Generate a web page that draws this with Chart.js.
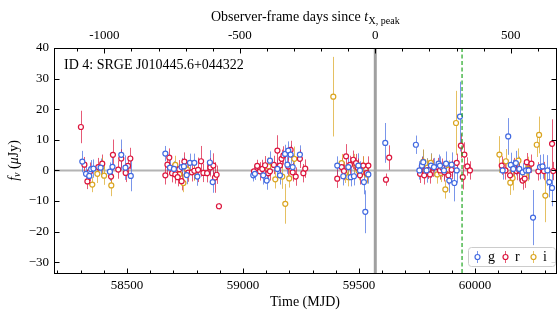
<!DOCTYPE html>
<html>
<head>
<meta charset="utf-8">
<script src="https://cdn.jsdelivr.net/npm/chart.js@4.4.0/dist/chart.umd.min.js"></script>
<style>
  html, body { margin: 0; padding: 0; background: #fff; }
  canvas { display: block; }
</style>
</head>
<body>
<canvas id="lc" width="560" height="320"></canvas>
<script>
// g band: MJD, flux (uJy), 1-sigma error
const gMjd = [58307,58323,58337,58345,58355,58386,58426,58437,58475,58493,58516,
  58665,58685,58702,58735,58745,58757,58771,58790,58803,58857,58869,
  59044,59051,59087,59102,59116,59148,59159,59181,59191,59195,59205,59214,59245,
  59406,59432,59454,59464,59478,59497,59504,59521,59527,59540,
  59613,
  59745,59760,59771,59777,59791,59810,59823,59843,59849,59866,59875,59889,59899,59911,59921,59935,
  60119,60143,60154,60165,60176,60191,60205,60220,60231,60250,60280,60291,60312,60320,60332];
const gFlux = [2.9,-1.1,-1.8,0.4,0.6,0.9,-0.4,1.2,5.1,0.9,-1.8,
  5.5,0.9,0.5,1.1,1.3,-1.5,2.5,2.5,-2.0,2.6,-3.8,
  -1.6,-1.1,-1.6,-3.3,3.2,0.5,-1.6,5.4,1.9,6.5,5.2,1.1,5.2,
  1.6,-1.9,1.1,-2.2,-1.9,1.6,0.0,-3.8,-13.5,-1.3,
  9.0,
  8.4,0.0,1.6,2.7,0.0,1.6,1.1,2.2,1.6,0.0,2.2,-3.3,1.9,-4.1,0.0,17.6,
  0.0,11.1,1.8,0.5,2.4,0.5,-0.6,0.0,0.0,-15.4,1.1,1.3,0.0,-3.8,-5.7];
const gErr = [3.5,3,3,3,3,3,3,4,5,4,5,
  2.5,2.5,2.5,3,3,3,3,3,3,4,3.5,
  2,2,3,3,3,3,3,3,3,3,3,4,3,
  3,3,3,3,3,4,3,4,7,3,
  6.5,
  3,3,3,4,4,4,3,3,3,3,4,4,4,6,4,11.4,
  3,6,4,3,4,4,3,3,3,9,4,4,5,5,6];

// r band
const rMjd = [58301,58316,58329,58340,58376,58393,58431,58439,58462,58475,58494,58504,58514,
  58665,58674,58682,58694,58708,58718,58725,58735,58747,58764,58779,58790,58806,58819,58829,58845,58859,58872,58879,58886,58896,
  59047,59061,59073,59083,59095,59109,59116,59133,59148,59159,59166,59174,59195,59205,59214,59227,59245,59260,59268,
  59406,59425,59435,59444,59461,59475,59487,59494,59504,59518,59533,59540,
  59616,59630,
  59763,59771,59781,59799,59806,59820,59839,59849,59859,59868,59885,59899,59921,59939,59947,59954,59967,59978,
  60115,60131,60151,60168,60179,60191,60205,60214,60223,60230,60243,60273,60297,60332,60337];
const rFlux = [14.2,1.9,-3.6,-0.4,1.1,2.2,-2.0,5.1,0.3,3.9,-0.8,1.5,3.9,
  -1.6,1.9,4.2,-0.9,-1.3,-2.2,0.4,-3.5,2.9,-0.7,-0.6,-0.1,0.2,3.0,-0.8,-0.9,1.0,1.6,-2.3,-1.4,-11.7,
  -0.3,1.5,-0.3,0.5,1.7,-0.9,-0.3,1.8,6.5,1.6,3.8,4.9,1.3,6.7,-0.6,-2.0,3.8,-0.9,0.6,
  -2.7,1.1,-0.2,4.6,1.8,3.5,2.4,0.9,-1.6,1.6,-0.9,1.6,
  -3.0,4.2,
  -1.1,1.3,-1.6,0.2,-1.3,0.9,1.1,0.0,0.9,-0.6,-1.6,0.2,2.5,8.1,-2.2,5.2,1.3,0.0,
  1.6,0.0,-1.6,1.1,-0.2,0.0,-3.3,-2.7,2.7,0.2,2.2,-0.3,-0.2,8.7,-0.2];
const rErr = [5.3,2.5,2.5,3,3,3,3,5,3,3,3,3,3.5,
  3,3,3,3,3,3,3,3,3,3,3,3,4,5,3,3,3,4,5,3,1,
  2,2,3,3,3,3,3,3,5,3,3,3,3,3,3,3,3,3,3,
  3,3,3,4,3,3,3,3,3,3,3,3,
  2,4,
  3,3,3,3,3,3,3,3,3,3,3,3,3,4,4,4,3,3,
  3,3,3,3,3,3,3,3,3,3,3,3,3,8,3];

// i band
const iMjd = [58350,58372,58391,58401,58432,
  58708,58725,58743,58760,58789,
  59109,59139,59169,59182,59199,59221,
  59389,59425,59439,59454,59478,59498,59518,59533,
  59777,59794,59809,59837,59853,59872,59886,59918,
  60105,60133,60152,60162,60187,60214,60230,60266,60276,60303];
const iFlux = [-4.6,-1.1,1.1,-1.7,-4.9,
  1.8,-1.3,-4.1,0.2,-0.4,
  1.3,-2.9,-2.0,-10.9,-2.6,3.8,
  24.1,2.4,-1.1,-2.2,2.4,-0.2,1.6,-1.3,
  2.9,0.9,2.5,-1.3,-0.8,-6.2,0.3,15.5,
  5.2,3.0,-4.0,-2.5,3.2,-1.3,0.5,8.4,11.6,-8.2];
const iErr = [2.5,3,3,3,3.5,
  3,3,3,3,3,
  3,3,4,6.5,3,4,
  13,3,3,3,3,3,3,3,
  4,3,3,3,3,3,3,10.5,
  6,4,4,4,4,3,4,4,6,8.7];

// axes
const mjdTicks = [58500, 59000, 59500, 60000];
const dayTicks = [-1000, -500, 0, 500];
const fluxTicks = [-30, -20, -10, 0, 10, 20, 30, 40];
const peakMjd = 59570;   // t_X,peak
const markMjd = 59944;   // green dashed line

const SERIF = "'Liberation Serif', 'DejaVu Serif', serif";
const colors = { g: '#4169e1', r: '#dc143c', i: '#daa520' };
const errColors = { g: 'rgba(65,105,225,0.7)', r: 'rgba(220,20,60,0.7)', i: 'rgba(218,165,32,0.7)' };

function toPoints(xs, ys, es) {
    return xs.map((x, k) => ({ x: x, y: ys[k], err: es[k] }));
}

function makeSet(label, xs, ys, es) {
    return {
        label: label,
        data: toPoints(xs, ys, es),
        borderColor: colors[label],
        backgroundColor: '#ffffff',
        pointRadius: 2.5,
        pointBorderWidth: 1.2,
        pointHoverRadius: 2.5,
        showLine: false
    };
}

// error bars + reference lines under the markers
const underlay = {
    id: 'underlay',
    beforeDatasetsDraw(chart) {
        const { ctx, chartArea: a, scales } = chart;
        const x = scales.x, y = scales.y;
        ctx.save();
        ctx.beginPath();
        ctx.rect(a.left, a.top, a.right - a.left, a.bottom - a.top);
        ctx.clip();

        // zero line
        ctx.strokeStyle = '#b4b4b4';
        ctx.lineWidth = 2;
        ctx.beginPath();
        ctx.moveTo(a.left, y.getPixelForValue(0));
        ctx.lineTo(a.right, y.getPixelForValue(0));
        ctx.stroke();

        // peak line
        ctx.strokeStyle = '#a0a0a0';
        ctx.lineWidth = 3;
        ctx.beginPath();
        ctx.moveTo(x.getPixelForValue(peakMjd), a.top);
        ctx.lineTo(x.getPixelForValue(peakMjd), a.bottom);
        ctx.stroke();

        ctx.lineWidth = 1;
        chart.data.datasets.forEach(ds => {
            ctx.strokeStyle = errColors[ds.label];
            ds.data.forEach(p => {
                const px = Math.round(x.getPixelForValue(p.x)) + 0.5;
                ctx.beginPath();
                ctx.moveTo(px, y.getPixelForValue(p.y - p.err));
                ctx.lineTo(px, y.getPixelForValue(p.y + p.err));
                ctx.stroke();
            });
        });
        ctx.restore();
    }
};

function tickRun(ctx, scale, values, len, edge, dir, horiz) {
    values.forEach(v => {
        const p = Math.round(scale.getPixelForValue(v)) + 0.5;
        ctx.beginPath();
        if (horiz) {
            ctx.moveTo(p, edge);
            ctx.lineTo(p, edge + dir * len);
        } else {
            ctx.moveTo(edge, p);
            ctx.lineTo(edge + dir * len, p);
        }
        ctx.stroke();
    });
}

function range(from, to, step) {
    const out = [];
    for (let v = from; v <= to; v += step) out.push(v);
    return out;
}

// frame, inward ticks, titles, annotation, legend
const overlay = {
    id: 'overlay',
    afterDatasetsDraw(chart) {
        const { ctx, chartArea: a, scales } = chart;
        ctx.save();

        // green dashed marker
        ctx.strokeStyle = '#22a722';
        ctx.lineWidth = 1.2;
        ctx.setLineDash([4, 2.5]);
        const gx = scales.x.getPixelForValue(markMjd);
        ctx.beginPath();
        ctx.moveTo(gx, a.top);
        ctx.lineTo(gx, a.bottom);
        ctx.stroke();
        ctx.setLineDash([]);

        // frame
        ctx.strokeStyle = '#000';
        ctx.lineWidth = 1;
        ctx.strokeRect(Math.round(a.left) + 0.5, Math.round(a.top) + 0.5,
            Math.round(a.right - a.left), Math.round(a.bottom - a.top));

        // ticks
        const bottom = Math.round(a.bottom) + 0.5, top = Math.round(a.top) + 0.5;
        const left = Math.round(a.left) + 0.5, right = Math.round(a.right) + 0.5;
        tickRun(ctx, scales.x, mjdTicks, 5, bottom, -1, true);
        tickRun(ctx, scales.x, range(58200, 60300, 100), 3, bottom, -1, true);
        tickRun(ctx, scales.x2, dayTicks, 5, top, 1, true);
        tickRun(ctx, scales.x2, range(-1100, 600, 100), 3, top, 1, true);
        tickRun(ctx, scales.y, fluxTicks, 5, left, 1, false);
        tickRun(ctx, scales.y, fluxTicks, 5, right, -1, false);

        ctx.fillStyle = '#000';
        const cx = (a.left + a.right) / 2;

        // bottom title
        ctx.font = '14px ' + SERIF;
        ctx.textAlign = 'center';
        ctx.textBaseline = 'middle';
        ctx.fillText('Time (MJD)', cx, 302);

        // top title with subscript
        const main = 'Observer-frame days since ';
        ctx.font = '14px ' + SERIF;
        const w1 = ctx.measureText(main).width;
        ctx.font = 'italic 14px ' + SERIF;
        const w2 = ctx.measureText('t').width;
        ctx.font = '10px ' + SERIF;
        const w3 = ctx.measureText('X, peak').width;
        let tx = cx - (w1 + w2 + w3) / 2;
        ctx.textAlign = 'left';
        ctx.font = '14px ' + SERIF;
        ctx.fillText(main, tx, 17);
        tx += w1;
        ctx.font = 'italic 14px ' + SERIF;
        ctx.fillText('t', tx, 17);
        tx += w2;
        ctx.font = '10px ' + SERIF;
        ctx.fillText('X, peak', tx + 0.5, 21);

        // y title
        ctx.save();
        ctx.translate(14, (a.top + a.bottom) / 2);
        ctx.rotate(-Math.PI / 2);
        const parts = [
            ['italic 14px ', 'f', 0], ['italic 10px ', '\u03BD', 3],
            ['14px ', ' (', 0], ['italic 14px ', '\u03BC', 0], ['14px ', 'Jy)', 0]
        ];
        let total = 0;
        parts.forEach(p => { ctx.font = p[0] + SERIF; total += ctx.measureText(p[1]).width; });
        let yx = -total / 2;
        parts.forEach(p => {
            ctx.font = p[0] + SERIF;
            ctx.fillText(p[1], yx, p[2]);
            yx += ctx.measureText(p[1]).width;
        });
        ctx.restore();

        // annotation
        ctx.font = '14px ' + SERIF;
        ctx.textAlign = 'left';
        ctx.fillText('ID 4: SRGE J010445.6+044322', 64, 65);

        // legend
        const lx = 468, ly = 247, lw = 87, lh = 19;
        ctx.fillStyle = 'rgba(255,255,255,0.85)';
        ctx.strokeStyle = '#cccccc';
        ctx.lineWidth = 1;
        ctx.beginPath();
        ctx.roundRect(lx + 0.5, ly + 0.5, lw, lh, 3);
        ctx.fill();
        ctx.stroke();
        const items = [['g', 477, 488], ['r', 505, 515], ['i', 533, 543]];
        items.forEach(([name, mx, txx]) => {
            const my = ly + lh / 2 + 0.5;
            ctx.strokeStyle = errColors[name];
            ctx.beginPath();
            ctx.moveTo(mx + 0.5, my - 6);
            ctx.lineTo(mx + 0.5, my + 6);
            ctx.stroke();
            ctx.strokeStyle = colors[name];
            ctx.fillStyle = '#fff';
            ctx.lineWidth = 1.2;
            ctx.beginPath();
            ctx.arc(mx + 0.5, my, 2.5, 0, Math.PI * 2);
            ctx.fill();
            ctx.stroke();
            ctx.lineWidth = 1;
            ctx.fillStyle = '#000';
            ctx.font = '14px ' + SERIF;
            ctx.textBaseline = 'middle';
            ctx.fillText(name, txx, my);
        });

        ctx.restore();
    }
};

Chart.defaults.font.family = SERIF;
Chart.defaults.font.size = 13;
Chart.defaults.color = '#000';

new Chart(document.getElementById('lc').getContext('2d'), {
    type: 'scatter',
    data: {
        datasets: [
            makeSet('g', gMjd, gFlux, gErr),
            makeSet('r', rMjd, rFlux, rErr),
            makeSet('i', iMjd, iFlux, iErr)
        ]
    },
    options: {
        responsive: false,
        animation: false,
        devicePixelRatio: 1,
        layout: { padding: { left: 0, right: 4, top: 0, bottom: 0 } },
        plugins: { legend: { display: false }, tooltip: { enabled: false } },
        scales: {
            x: {
                type: 'linear',
                position: 'bottom',
                min: 58185,
                max: 60349,
                grid: { display: false, drawTicks: false },
                border: { display: false },
                ticks: { padding: 5, maxRotation: 0, autoSkip: false, callback: v => String(v) },
                afterBuildTicks: s => { s.ticks = mjdTicks.map(v => ({ value: v })); },
                afterFit: s => { s.height = 47; }
            },
            x2: {
                type: 'linear',
                position: 'top',
                min: -1186,
                max: 667,
                grid: { display: false, drawTicks: false },
                border: { display: false },
                ticks: { padding: 5, maxRotation: 0, autoSkip: false, callback: v => String(v) },
                afterBuildTicks: s => { s.ticks = dayTicks.map(v => ({ value: v })); },
                afterFit: s => { s.height = 48; }
            },
            y: {
                type: 'linear',
                min: -33.5,
                max: 40,
                grid: { display: false, drawTicks: false },
                border: { display: false },
                ticks: { padding: 5, callback: v => (v < 0 ? '\u2212' + Math.abs(v) : String(v)) },
                afterBuildTicks: s => { s.ticks = fluxTicks.map(v => ({ value: v })); },
                afterFit: s => { s.width = 54; }
            }
        }
    },
    plugins: [underlay, overlay]
});
</script>
</body>
</html>
